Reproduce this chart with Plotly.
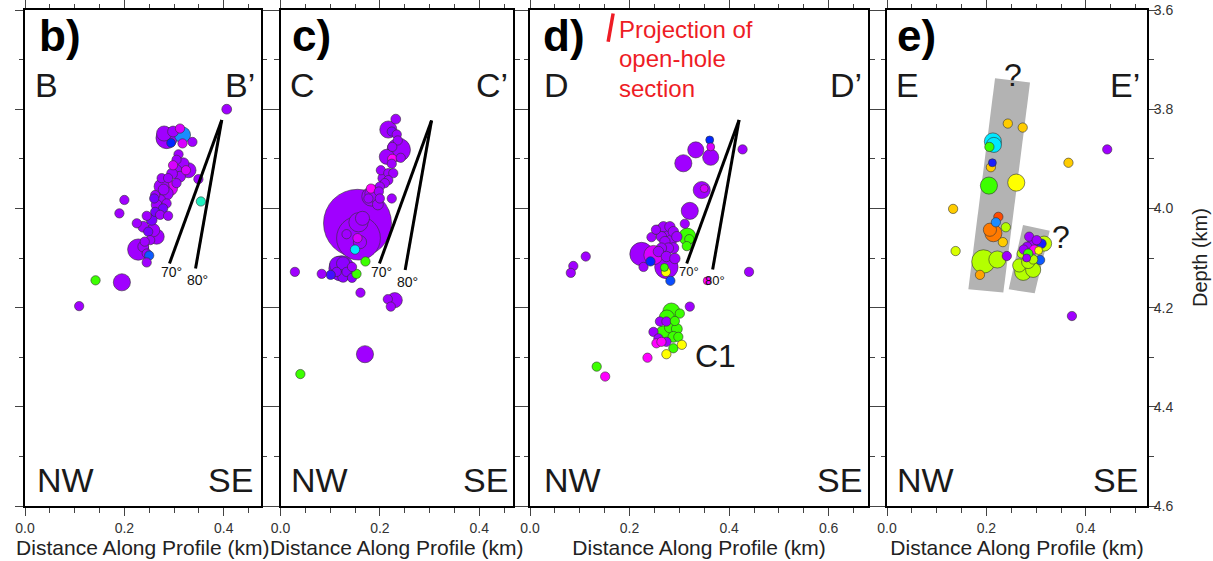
import math
import plotly.graph_objects as go

# ---------------------------------------------------------------------------
# Hypocentres projected on four cross-sections.
# dist  : distance along profile (km)
# depth : depth (km)
# mag   : relative magnitude (controls symbol size)
# time  : relative occurrence time 0..1 (controls symbol colour)
# ---------------------------------------------------------------------------
b_dist = [0.406, 0.285, 0.317, 0.294, 0.312, 0.317, 0.337, 0.298, 0.280, 0.309,
          0.305, 0.319, 0.329, 0.324, 0.305, 0.298, 0.312, 0.305, 0.275, 0.288,
          0.292, 0.275, 0.285, 0.262, 0.272, 0.285, 0.265, 0.278, 0.262, 0.272,
          0.288, 0.245, 0.255, 0.225, 0.238, 0.258, 0.248, 0.265, 0.252, 0.241,
          0.228, 0.238, 0.245, 0.250, 0.245, 0.200, 0.190, 0.349, 0.354, 0.142,
          0.195, 0.109, 0.260, 0.279, 0.296]
b_depth = [3.800, 3.858, 3.852, 3.868, 3.839, 3.869, 3.866, 3.845, 3.849, 3.891,
           3.902, 3.909, 3.923, 3.923, 3.923, 3.913, 3.936, 3.949, 3.939, 3.939,
           3.959, 3.956, 3.970, 3.973, 3.983, 3.990, 3.993, 4.000, 4.007, 4.013,
           4.015, 4.015, 4.023, 4.030, 4.037, 4.044, 4.047, 4.057, 4.064, 4.067,
           4.083, 4.077, 4.091, 4.095, 4.109, 3.983, 4.010, 3.941, 3.986, 4.145,
           4.149, 4.197, 3.980, 3.962, 3.930]
b_mag = [-0.93, 0.06, -0.30, -1.08, -1.00, -1.00, -1.00, -0.80, -0.38, -1.00,
         -1.00, -0.80, -0.38, -1.00, -0.80, -1.00, -0.80, -1.00, -1.00, -1.00,
         -0.38, -0.38, -0.55, -1.00, -0.80, -1.00, -0.80, -1.00, -1.00, -1.00,
         -1.00, -1.00, -0.80, -1.00, -0.80, -0.55, -1.00, -0.38, -1.00, -1.00,
         0.06, -0.80, -1.00, -1.00, -1.00, -1.00, -1.00, -1.00, -1.00, -1.00,
         -0.22, -1.00, -1.00, -0.80, -0.80]
b_time = [0.16, 0.16, 0.40, 0.32, 0.08, 0.08, 0.16, 0.16, 0.16, 0.16,
          0.16, 0.16, 0.16, 0.08, 0.16, 0.08, 0.16, 0.16, 0.16, 0.16,
          0.08, 0.16, 0.16, 0.16, 0.16, 0.16, 0.16, 0.22, 0.22, 0.16,
          0.16, 0.16, 0.22, 0.16, 0.16, 0.16, 0.22, 0.16, 0.16, 0.16,
          0.16, 0.16, 0.16, 0.36, 0.16, 0.16, 0.16, 0.16, 0.52, 0.58,
          0.16, 0.16, 0.22, 0.16, 0.16]

c_dist = [0.155, 0.157, 0.157, 0.165, 0.133, 0.155, 0.150, 0.160, 0.232, 0.217,
          0.224, 0.234, 0.236, 0.238, 0.225, 0.214, 0.225, 0.242, 0.224, 0.202,
          0.217, 0.227, 0.207, 0.217, 0.210, 0.200, 0.182, 0.187, 0.198, 0.200,
          0.177, 0.224, 0.196, 0.183, 0.123, 0.116, 0.126, 0.113, 0.133, 0.126,
          0.101, 0.144, 0.153, 0.144, 0.083, 0.029, 0.171, 0.161, 0.230, 0.216,
          0.222, 0.170, 0.040]
c_depth = [4.030, 4.060, 4.028, 4.020, 4.052, 4.060, 4.083, 4.068, 3.820, 3.841,
           3.845, 3.851, 3.863, 3.882, 3.876, 3.896, 3.900, 3.898, 3.910, 3.923,
           3.929, 3.929, 3.939, 3.943, 3.949, 3.956, 3.960, 3.970, 3.966, 3.980,
           3.980, 3.980, 3.992, 3.976, 4.121, 4.114, 4.111, 4.128, 4.128, 4.138,
           4.134, 4.140, 4.132, 4.118, 4.132, 4.128, 4.107, 4.170, 4.185, 4.183,
           4.198, 4.294, 4.334]
c_mag = [1.54, 0.98, -0.07, -0.47, -1.00, -1.00, -1.00, -0.55, -0.93, -0.22,
         -1.00, -1.00, -1.00, 0.18, -1.00, -0.38, -1.00, -1.00, -1.00, -1.00,
         -1.00, -1.00, -0.80, -1.00, -1.00, -1.00, -1.00, -0.22, -1.00, -1.00,
         -1.00, -1.00, -0.80, -0.07, 0.29, -0.22, -0.55, -1.00, -1.00, -0.80,
         -1.00, -1.00, -1.00, -1.00, -1.00, -1.00, -1.00, -1.00, -0.38, -1.00,
         -1.00, -0.22, -1.00]
c_time = [0.16, 0.16, 0.16, 0.16, 0.16, 0.08, 0.46, 0.16, 0.16, 0.16,
          0.20, 0.16, 0.16, 0.16, 0.16, 0.16, 0.00, 0.16, 0.16, 0.16,
          0.16, 0.16, 0.16, 0.16, 0.16, 0.16, 0.00, 0.16, 0.16, 0.16,
          0.16, 0.16, 0.16, 0.16, 0.19, 0.19, 0.19, 0.19, 0.19, 0.19,
          0.27, 0.19, 0.58, 0.16, 0.16, 0.16, 0.58, 0.16, 0.16, 0.16,
          0.16, 0.16, 0.58]

d_dist = [0.361, 0.363, 0.333, 0.363, 0.308, 0.427, 0.345, 0.350, 0.321, 0.311,
          0.316, 0.320, 0.315, 0.258, 0.268, 0.281, 0.288, 0.278, 0.264, 0.271,
          0.284, 0.295, 0.278, 0.264, 0.288, 0.258, 0.274, 0.291, 0.244, 0.253,
          0.224, 0.248, 0.228, 0.274, 0.242, 0.273, 0.270, 0.282, 0.112, 0.087,
          0.082, 0.440, 0.356, 0.321, 0.284, 0.275, 0.301, 0.261, 0.274, 0.291,
          0.281, 0.295, 0.268, 0.248, 0.258, 0.288, 0.298, 0.274, 0.254, 0.264,
          0.288, 0.305, 0.274, 0.236, 0.134, 0.151]
d_depth = [3.862, 3.876, 3.882, 3.897, 3.909, 3.881, 3.963, 3.960, 4.005, 4.031,
           4.057, 4.062, 4.076, 4.044, 4.037, 4.037, 4.047, 4.050, 4.057, 4.067,
           4.064, 4.057, 4.080, 4.080, 4.080, 4.087, 4.097, 4.101, 4.058, 4.043,
           4.092, 4.094, 4.118, 4.118, 4.107, 4.128, 4.119, 4.146, 4.097, 4.116,
           4.130, 4.128, 4.146, 4.198, 4.208, 4.220, 4.212, 4.228, 4.228, 4.227,
           4.240, 4.243, 4.252, 4.249, 4.262, 4.259, 4.259, 4.269, 4.272, 4.269,
           4.282, 4.275, 4.294, 4.301, 4.319, 4.339]
d_mag = [-1.20, -1.20, -0.30, -0.30, -0.22, -1.00, -0.22, -1.20, -0.22, -1.00,
         -0.22, -1.00, -1.00, -0.85, -0.85, -0.85, -0.85, -0.80, -0.85, -0.85,
         -0.80, -0.85, -0.85, -0.85, -0.80, -0.85, -0.85, -0.85, -1.00, -1.00,
         0.18, -0.07, -1.00, 0.18, -1.00, -1.00, -1.20, -1.00, -1.00, -1.00,
         -1.00, -1.00, -1.20, -1.00, -0.22, -0.38, -1.00, -1.00, -1.00, -1.00,
         -0.80, -0.80, -0.38, -1.00, -1.00, -0.80, -1.00, -1.00, -1.00, -1.00,
         -1.00, -1.00, -1.00, -1.00, -1.00, -1.00]
d_time = [0.32, 0.08, 0.16, 0.16, 0.16, 0.16, 0.16, 0.08, 0.16, 0.16,
          0.58, 0.58, 0.58, 0.16, 0.16, 0.16, 0.16, 0.16, 0.16, 0.16,
          0.16, 0.16, 0.16, 0.16, 0.16, 0.16, 0.16, 0.16, 0.16, 0.16,
          0.16, 0.08, 0.16, 0.16, 0.32, 0.74, 0.58, 0.35, 0.16, 0.16,
          0.16, 0.16, 0.00, 0.16, 0.58, 0.58, 0.58, 0.16, 0.16, 0.58,
          0.58, 0.58, 0.58, 0.16, 0.16, 0.58, 0.58, 0.16, 0.00, 0.00,
          0.58, 0.74, 0.74, 0.00, 0.58, 0.00]

e_dist = [0.243, 0.273, 0.213, 0.215, 0.206, 0.212, 0.209, 0.205, 0.260, 0.365,
          0.443, 0.133, 0.224, 0.219, 0.239, 0.214, 0.207, 0.233, 0.138, 0.194,
          0.222, 0.241, 0.187, 0.286, 0.316, 0.311, 0.301, 0.291, 0.282, 0.296,
          0.271, 0.275, 0.308, 0.266, 0.274, 0.294, 0.284, 0.294, 0.284, 0.281,
          0.305, 0.372]
e_depth = [3.829, 3.837, 3.865, 3.872, 3.876, 3.908, 3.917, 3.954, 3.948, 3.908,
           3.881, 4.001, 4.017, 4.028, 4.038, 4.050, 4.043, 4.068, 4.086, 4.107,
           4.103, 4.096, 4.134, 4.057, 4.071, 4.071, 4.064, 4.074, 4.077, 4.083,
           4.091, 4.083, 4.104, 4.115, 4.128, 4.124, 4.108, 4.103, 4.091, 4.100,
           4.085, 4.217]
e_mag = [-1.00, -1.00, -0.22, -0.38, -1.00, -1.20, -1.00, -0.22, -0.22, -1.00,
         -1.00, -1.00, -1.00, -1.00, -1.00, -0.22, -0.55, -1.00, -1.00, 0.18,
         -0.22, -1.00, -1.00, -1.00, -0.38, -1.00, -1.00, -0.80, -1.00, -1.00,
         -1.00, -1.00, -1.00, -0.55, -0.22, -0.38, -0.55, -1.00, -1.00, -1.20,
         -1.20, -1.00]
e_time = [0.82, 0.82, 0.46, 0.46, 0.58, 0.30, 0.82, 0.58, 0.74, 0.82,
          0.16, 0.82, 1.00, 0.40, 0.66, 0.90, 0.90, 0.82, 0.70, 0.66,
          0.66, 0.16, 0.86, 0.16, 0.68, 0.30, 0.16, 0.16, 0.16, 0.00,
          0.66, 0.16, 0.36, 0.66, 0.66, 0.66, 0.66, 0.66, 0.58, 0.16,
          0.74, 0.16]

# candidate fault planes (apex and lower end depth of the 70° and 80° lines)
dip_angles = [70, 80]
apex_dist = [0.396, 0.304, 0.420]
apex_depth = [3.822, 3.823, 3.822]
dip_end_depth = [[4.111, 4.121], [4.111, 4.124], [4.111, 4.123]]

# projection of the open-hole section (profile D)
openhole_dist = [0.167, 0.157]
openhole_depth = [3.607, 3.664]

# interpreted structures on profile E
zone1_dist = [0.2173, 0.2877, 0.2340, 0.1636]
zone1_depth = [3.7375, 3.7464, 4.1697, 4.1630]
zone2_dist = [0.2736, 0.3273, 0.2971, 0.2448]
zone2_depth = [4.0335, 4.0450, 4.1712, 4.1632]

panel_tags = ["b)", "c)", "d)", "e)"]
profile_start = ["B", "C", "D", "E"]
profile_end = ["B\u2019", "C\u2019", "D\u2019", "E\u2019"]
x_max = [0.474, 0.468, 0.679, 0.523]

# ---------------------------------------------------------------------------
W, H = 1213, 561
FONT = "Liberation Sans, Arial, Helvetica, sans-serif"
frames_px = [(25.0, 260.5), (280.5, 513.0), (530.0, 868.0), (887.0, 1147.0)]
top_px, bottom_px = 10.0, 506.0

colorscale = [
    [0.00, "#ff00ff"], [0.08, "#d800ff"], [0.16, "#a000ff"], [0.24, "#6a00ff"],
    [0.32, "#0028ff"], [0.40, "#1a8cff"], [0.46, "#00e8ff"], [0.52, "#20f0c0"],
    [0.58, "#3cff00"], [0.66, "#b4ff00"], [0.74, "#ffff00"], [0.82, "#ffcc00"],
    [0.90, "#ff7a00"], [1.00, "#ff4a00"],
]


def diameter(m):
    return 9.3 * 10 ** (0.34 * (m + 1.0))


events = [
    (b_dist, b_depth, b_mag, b_time),
    (c_dist, c_depth, c_mag, c_time),
    (d_dist, d_depth, d_mag, d_time),
    (e_dist, e_depth, e_mag, e_time),
]

fig = go.Figure()


def ax_names(i):
    return ("x", "y") if i == 0 else (f"x{i+1}", f"y{i+1}")


# shaded zones first so the events sit on top
for zx, zd in [(zone1_dist, zone1_depth), (zone2_dist, zone2_depth)]:
    fig.add_trace(go.Scatter(x=zx + zx[:1], y=zd + zd[:1], mode="lines",
                             fill="toself", fillcolor="#b3b3b3",
                             line=dict(width=0, color="#b3b3b3"),
                             xaxis="x4", yaxis="y4", hoverinfo="skip",
                             showlegend=False))

for i, (xs, ds, ms, ts) in enumerate(events):
    xa, ya = ax_names(i)
    order = sorted(range(len(xs)), key=lambda k: -ms[k])
    fig.add_trace(go.Scatter(
        x=[xs[k] for k in order], y=[ds[k] for k in order], mode="markers",
        marker=dict(size=[diameter(ms[k]) for k in order],
                    color=[ts[k] for k in order], colorscale=colorscale,
                    cmin=0, cmax=1, showscale=False, opacity=1,
                    line=dict(color="#333333", width=0.6)),
        xaxis=xa, yaxis=ya, showlegend=False))

annotations = []

# fault-plane lines with dip labels
for i in range(3):
    xa, ya = ax_names(i)
    for j, dip in enumerate(dip_angles):
        d_end = dip_end_depth[i][j]
        x_end = apex_dist[i] - (d_end - apex_depth[i]) / math.tan(math.radians(dip))
        fig.add_trace(go.Scatter(x=[apex_dist[i], x_end], y=[apex_depth[i], d_end],
                                 mode="lines", line=dict(color="black", width=3),
                                 xaxis=xa, yaxis=ya, hoverinfo="skip",
                                 showlegend=False))
        annotations.append(dict(x=x_end, y=d_end, xref=xa, yref=ya,
                                text=f"{dip}\u00b0", showarrow=False,
                                xanchor="center", yanchor="top",
                                xshift=2, yshift=1 if j == 0 else -2,
                                font=dict(size=14 if i < 2 else 13, color="#111")))

fig.add_trace(go.Scatter(x=openhole_dist, y=openhole_depth, mode="lines",
                         line=dict(color="#ee1c25", width=3.5),
                         xaxis="x3", yaxis="y3", hoverinfo="skip", showlegend=False))

tag_dx = [12, 9, 11, 8]
start_dx = [8, 7.5, 12, 7]
end_dx = [-4, -3.5, -4.5, -5.5]
nw_dx = [10, 8.5, 12, 8]
se_dx = [-6, -3, -4, -7]
for i in range(4):
    xa, ya = ax_names(i)
    xr, yr = f"{xa} domain", f"{ya} domain"
    annotations += [
        dict(x=0, y=1, xref=xr, yref=yr, xanchor="left", yanchor="middle",
             xshift=tag_dx[i], yshift=-25, showarrow=False,
             text=f"<b>{panel_tags[i]}</b>", font=dict(size=44, color="black")),
        dict(x=0, y=1, xref=xr, yref=yr, xanchor="left", yanchor="middle",
             xshift=start_dx[i], yshift=-75, showarrow=False,
             text=profile_start[i], font=dict(size=34, color="#1a1a1a")),
        dict(x=1, y=1, xref=xr, yref=yr, xanchor="right", yanchor="middle",
             xshift=end_dx[i], yshift=-75, showarrow=False,
             text=profile_end[i], font=dict(size=34, color="#1a1a1a")),
        dict(x=0, y=0, xref=xr, yref=yr, xanchor="left", yanchor="middle",
             xshift=nw_dx[i], yshift=26, showarrow=False,
             text="NW", font=dict(size=34, color="#1a1a1a")),
        dict(x=1, y=0, xref=xr, yref=yr, xanchor="right", yanchor="middle",
             xshift=se_dx[i], yshift=26, showarrow=False,
             text="SE", font=dict(size=34, color="#1a1a1a")),
    ]

for k, line in enumerate(["Projection of", "open-hole", "section"]):
    annotations.append(dict(x=0, y=1, xref="x3 domain", yref="y3 domain",
                            xanchor="left", yanchor="middle", xshift=87,
                            yshift=[-19.8, -48.2, -78.2][k], showarrow=False,
                            text=line, font=dict(size=24, color="#ee1c25")))

annotations.append(dict(x=0.327, y=4.297, xref="x3", yref="y3", xanchor="left",
                        yanchor="middle", showarrow=False, text="C1",
                        font=dict(size=32, color="#1a1a1a")))
annotations.append(dict(x=0.254, y=3.732, xref="x4", yref="y4", xanchor="center",
                        yanchor="middle", showarrow=False, text="?",
                        font=dict(size=32, color="#1a1a1a")))
annotations.append(dict(x=0.351, y=4.057, xref="x4", yref="y4", xanchor="center",
                        yanchor="middle", showarrow=False, text="?",
                        font=dict(size=32, color="#1a1a1a")))

# depth axis title, right of the last panel
annotations.append(dict(x=1200 / W, y=0.5 * ((H - bottom_px) + (H - top_px)) / H,
                        xref="paper", yref="paper", xanchor="center",
                        yanchor="middle", textangle=-90, showarrow=False,
                        text="Depth (km)", font=dict(size=20, color="#222")))

layout = dict(
    width=W, height=H, margin=dict(l=0, r=0, t=0, b=0),
    paper_bgcolor="white", plot_bgcolor="white",
    font=dict(family=FONT, color="#222"),
    annotations=annotations, showlegend=False,
)

tick_common = dict(ticks="outside", tickwidth=1, tickcolor="#444", showgrid=False,
                   zeroline=False, showline=True, linewidth=2, linecolor="black",
                   mirror="ticks", tickformat=".1f",
                   tickfont=dict(size=14, color="#333"))
y_dom = [(H - bottom_px) / H, (H - top_px) / H]
for i in range(4):
    left, right = frames_px[i]
    xkey = "xaxis" if i == 0 else f"xaxis{i+1}"
    ykey = "yaxis" if i == 0 else f"yaxis{i+1}"
    xa, ya = ax_names(i)
    layout[xkey] = dict(
        domain=[left / W, right / W], range=[0, x_max[i]], anchor=ya,
        tick0=0, dtick=0.2, ticklen=8,
        minor=dict(dtick=0.05, ticklen=4.5, tickwidth=1, tickcolor="#444",
                   ticks="outside"),
        title=dict(text="Distance Along Profile (km)", font=dict(size=21, color="#222"),
                   standoff=5),
        automargin=False, **tick_common)
    ycfg = dict(domain=y_dom, range=[4.6, 3.6], anchor=xa, tick0=3.6, dtick=0.2,
                ticklen=8, automargin=False,
                minor=dict(dtick=0.1, ticklen=4.5, tickwidth=1, tickcolor="#444",
                           ticks="outside"),
                **tick_common)
    if i == 3:
        ycfg.update(side="right", showticklabels=True, ticklabelstandoff=-6)
    else:
        ycfg.update(showticklabels=False)
    layout[ykey] = ycfg

fig.update_layout(**layout)
fig.write_html("out.html")
